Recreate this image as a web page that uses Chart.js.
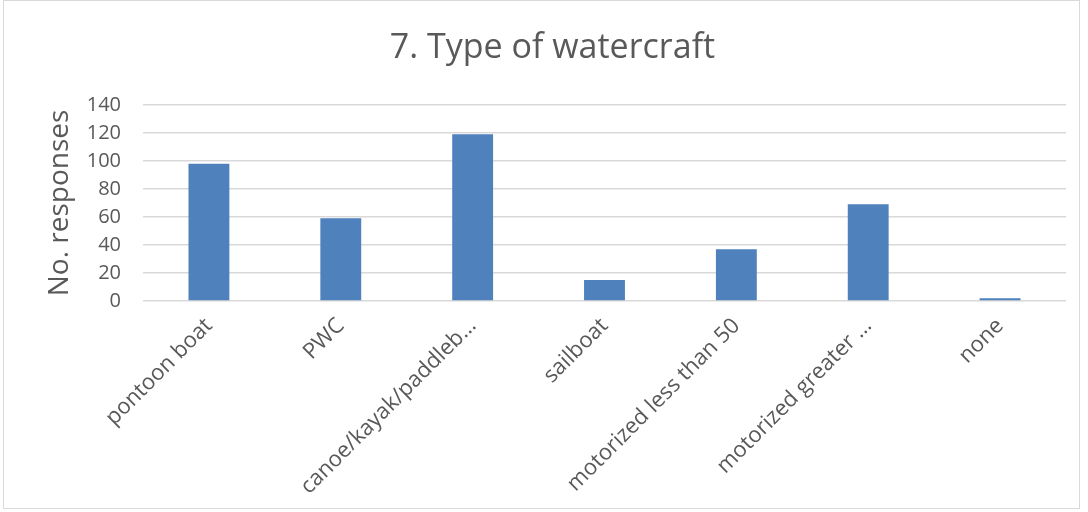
<!DOCTYPE html>
<html>
<head>
<meta charset="utf-8">
<script src="https://cdn.jsdelivr.net/npm/chart.js@4"></script>
<style>
  body { margin: 0; background: #fff; }
  #wrap { position: relative; width: 1088px; height: 512px; }
  #frame { position: absolute; left: 3px; top: 0; width: 1077px; height: 509px; border: 1px solid #d9d9d9; box-sizing: border-box; pointer-events: none; }
</style>
</head>
<body>
<div id="wrap">
  <canvas id="barChart" width="1088" height="512"></canvas>
  <div id="frame"></div>
</div>
<script>
let categorias = ['pontoon boat', 'PWC', 'canoe/kayak/paddleb…', 'sailboat', 'motorized less than 50', 'motorized greater …', 'none'];
let respuestas = [98, 59, 119, 15, 37, 69, 2];
let ticksY = [0, 20, 40, 60, 80, 100, 120, 140];

const gris = '#595959';
const fuente = '"Open Sans", "DejaVu Sans", sans-serif';

var ctx = document.getElementById('barChart').getContext('2d');
var myBarChart = new Chart(ctx, {
  type: 'bar',
  data: {
    labels: categorias,
    datasets: [{
      label: 'No. responses',
      data: respuestas,
      backgroundColor: '#4f81bd',
      borderWidth: 0,
      barPercentage: 0.62,
      categoryPercentage: 0.5
    }]
  },
  options: {
    responsive: false,
    animation: false,
    layout: { padding: { left: 39, right: 22, top: 0, bottom: 0 } },
    plugins: {
      legend: { display: false },
      tooltip: { enabled: false },
      title: {
        display: true,
        text: '7. Type of watercraft',
        color: gris,
        font: { family: fuente, size: 34, weight: 'normal' },
        padding: { top: 28, bottom: 36 }
      }
    },
    scales: {
      x: {
        grid: { display: false, drawTicks: false },
        border: { display: false },
        ticks: {
          color: gris,
          font: { family: fuente, size: 22 },
          minRotation: 45,
          maxRotation: 45,
          padding: 12,
          autoSkip: false
        },
        afterFit: function(scale) { scale.height = 211; }
      },
      y: {
        min: 0,
        max: 140,
        afterBuildTicks: function(scale) { scale.ticks = ticksY.map(v => ({ value: v })); },
        grid: { color: '#d9d9d9', lineWidth: 1.5, drawTicks: false },
        border: { display: false },
        ticks: {
          color: gris,
          font: { family: fuente, size: 20 },
          padding: 22
        },
        title: {
          display: true,
          text: 'No. responses',
          color: gris,
          font: { family: fuente, size: 28 },
          padding: { top: 4, bottom: 4 }
        },
        afterFit: function(scale) { scale.width = 104; }
      }
    }
  }
});
</script>
</body>
</html>
